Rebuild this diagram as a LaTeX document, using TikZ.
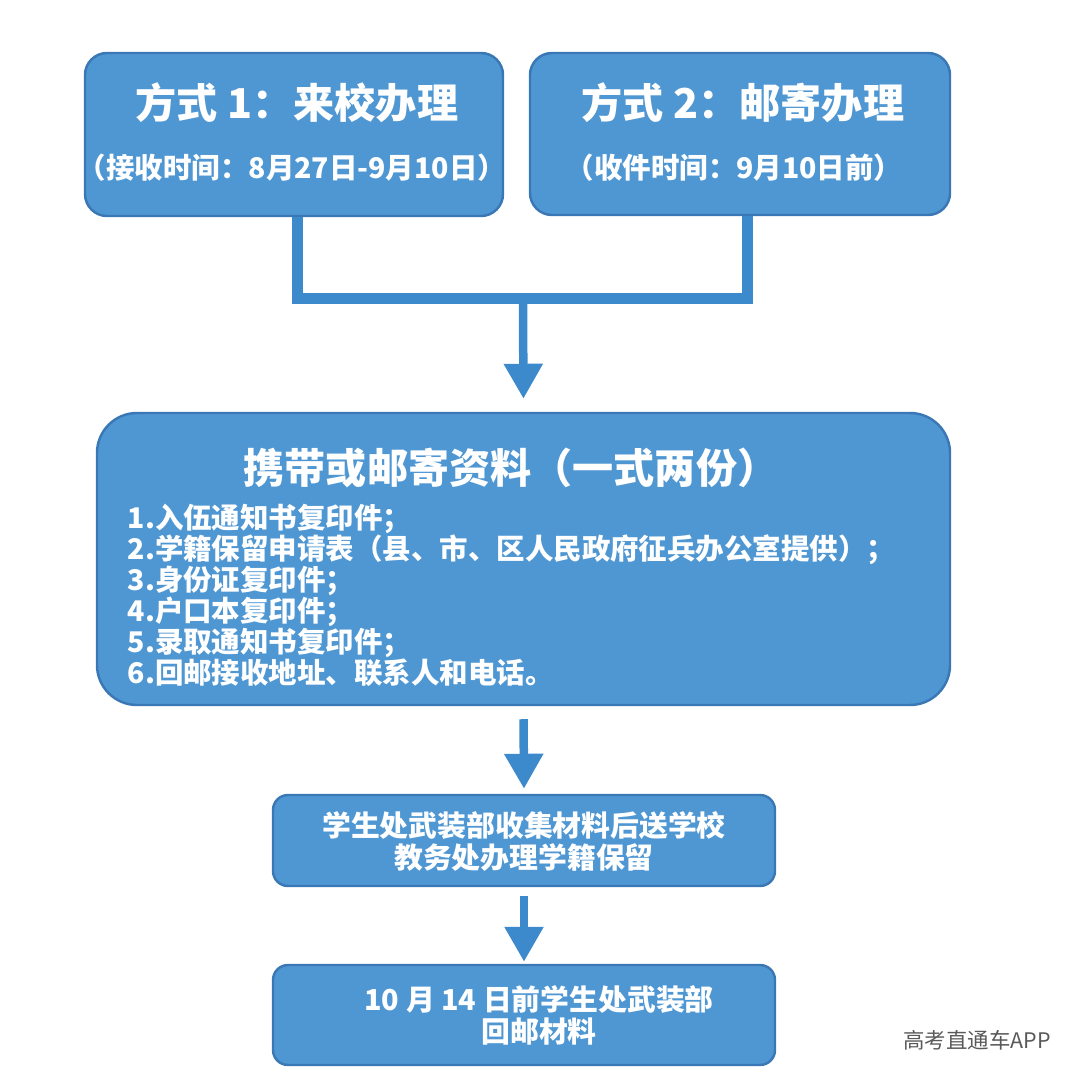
\documentclass[tikz,border=0pt]{standalone}
\usepackage{fontspec}
\usetikzlibrary{arrows.meta,positioning}
\setmainfont{Noto Sans CJK SC}
\definecolor{boxblue}{HTML}{4F97D3}
\definecolor{boxedge}{HTML}{3A78B5}
\definecolor{flowblue}{HTML}{3C89CC}
\def\bigfont{\fontsize{11.7}{13}\selectfont\bfseries}
\def\subfont{\fontsize{8.1}{8.8}\selectfont\bfseries}
\def\stepfont{\fontsize{8.2}{9.1}\selectfont\bfseries}

\begin{document}
\begin{tikzpicture}[
  blk/.style={draw=boxedge,line width=0.7pt,fill=boxblue,rounded corners=#1,inner sep=0pt},
  txt/.style={text=white,inner sep=0pt,align=center},
  bar/.style={draw=flowblue,line width=0.11cm,line join=miter},
  flow/.style={draw=flowblue,line width=0.085cm,-{Triangle[width=0.37cm,length=0.35cm]}}
]
  \useasboundingbox (0,0) rectangle (10.8,-10.8);

  % two ways
  \node[blk=0.22cm,minimum width=4.18cm,minimum height=1.63cm] (m1) at (2.94,-1.345) {};
  \node[txt,font=\bigfont] (m1t) at (2.97,-1.03) {方式 1：来校办理};
  \node[txt,font=\subfont] (m1s) at (2.92,-1.68) {（接收时间：8月27日-9月10日）};
  \node[blk=0.22cm,minimum width=4.20cm,minimum height=1.62cm] (m2) at (7.40,-1.34) {};
  \node[txt,font=\bigfont] (m2t) at (7.43,-1.03) {方式 2：邮寄办理};
  \node[txt,font=\subfont] (m2s) at (7.34,-1.68) {（收件时间：9月10日前）};

  % materials
  \node[blk=0.4cm,minimum width=8.53cm,minimum height=2.92cm] (items) at (5.235,-5.59) {};
  \node[txt,font=\bigfont] (itemst) at (5.11,-4.68) {携带或邮寄资料（一式两份）};
  \node[txt,font=\subfont,align=left,anchor=west] (itemsl) at (1.27,-5.95)
    {1.入伍通知书复印件；\\
     2.学籍保留申请表（县、市、区人民政府征兵办公室提供）；\\
     3.身份证复印件；\\
     4.户口本复印件；\\
     5.录取通知书复印件；\\
     6.回邮接收地址、联系人和电话。};

  % last two steps
  \node[blk=0.15cm,minimum width=5.02cm,minimum height=0.91cm] (relay) at (5.24,-8.405) {};
  \node[txt,font=\stepfont] (relayt) at (5.24,-8.41) {学生处武装部收集材料后送学校\\教务处办理学籍保留};
  \node[blk=0.15cm,minimum width=5.02cm,minimum height=1.0cm] (back) at (5.24,-10.15) {};
  \node[txt,font=\stepfont] (backt) at (5.39,-10.15) {10 月 14 日前学生处武装部\\回邮材料};

  \coordinate (hub) at (5.23,-2.99);
  \draw[bar] ([xshift=0.03cm]m1.south) |- (hub) -| ([xshift=0.07cm]m2.south);
  \draw[flow,shorten >=0.13cm] (hub) -- (items.north);
  \draw[flow,shorten <=0.13cm,shorten >=0.05cm] (items.south) -- (relay.north);
  \draw[flow,shorten <=0.09cm,shorten >=0.02cm] (relay.south) -- (back.north);

  \node[text=black!65,font=\fontsize{6.1}{7}\selectfont,inner sep=0pt] (mark) at (9.77,-10.40) {高考直通车APP};
\end{tikzpicture}
\end{document}
